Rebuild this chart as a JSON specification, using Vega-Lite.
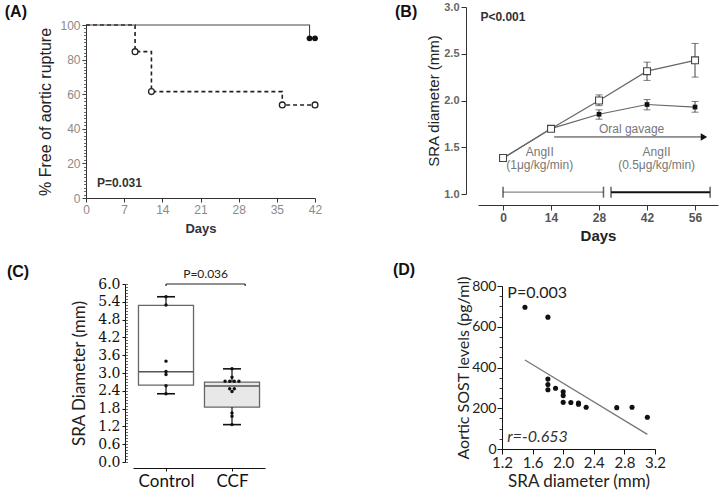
{
  "$schema": "https://vega.github.io/schema/vega-lite/v6.json",
  "background": "white",
  "width": 720, "height": 491,
  "autosize": {"type": "none"},
  "padding": 0,
  "config": {
    "view": {"stroke": null},
    "axis": {"grid": false, "labelFont": "Liberation Sans", "titleFont": "Liberation Sans", "labelFlush": false, "labelOverlap": false, "labelBound": false}
  },
  "resolve": {
    "scale": {"x": "independent", "y": "independent", "fill": "independent"},
    "axis": {"x": "independent", "y": "independent"}
  },
  "datasets": {
    "km": [
      {"g": "das", "day": 0, "pct": 100}, {"g": "das", "day": 9, "pct": 84.6}, {"g": "das", "day": 12, "pct": 61.5}, {"g": "das", "day": 36, "pct": 53.8}, {"g": "das", "day": 42, "pct": 53.8},
      {"g": "sol", "day": 0, "pct": 100}, {"g": "sol", "day": 41, "pct": 92.3}, {"g": "sol", "day": 42, "pct": 92.3}
    ],
    "kmpts": [
      {"g": "das", "day": 9, "pct": 84.6}, {"g": "das", "day": 12, "pct": 61.5}, {"g": "das", "day": 36, "pct": 53.8}, {"g": "das", "day": 42, "pct": 53.8},
      {"g": "sol", "day": 41, "pct": 92.3}, {"g": "sol", "day": 42, "pct": 92.3}
    ],
    "aann": [
      {"day": -14.9, "pct": 107.5, "t": "(A)", "k": "panel"},
      {"day": 2, "pct": 8.5, "t": "P=0.031", "k": "p"}
    ],
    "bser": [
      {"g": "open", "day": 0, "v": 1.385, "lo": 1.365, "hi": 1.405},
      {"g": "open", "day": 14, "v": 1.697, "lo": 1.68, "hi": 1.715},
      {"g": "open", "day": 28, "v": 2.0, "lo": 1.945, "hi": 2.06},
      {"g": "open", "day": 42, "v": 2.314, "lo": 2.215, "hi": 2.41},
      {"g": "open", "day": 56, "v": 2.43, "lo": 2.25, "hi": 2.61},
      {"g": "fill", "day": 0, "v": 1.38, "lo": 1.365, "hi": 1.40},
      {"g": "fill", "day": 14, "v": 1.70, "lo": 1.68, "hi": 1.72},
      {"g": "fill", "day": 28, "v": 1.853, "lo": 1.80, "hi": 1.90},
      {"g": "fill", "day": 42, "v": 1.957, "lo": 1.90, "hi": 2.01},
      {"g": "fill", "day": 56, "v": 1.93, "lo": 1.875, "hi": 1.99}
    ],
    "bbar": [
      {"k": "thin", "x1": 0, "x2": 29.3, "v": 1.02},
      {"k": "thick", "x1": 31.5, "x2": 60.4, "v": 1.02}
    ],
    "barrow": [{"x1": 14.9, "x2": 58.0, "v": 1.61, "tip": 58.6}],
    "bann": [
      {"day": 37.5, "v": 1.70, "t": "Oral gavage"},
      {"day": 10.7, "v": 1.445, "t": "AngII"},
      {"day": 10.7, "v": 1.305, "t": "(1μg/kg/min)"},
      {"day": 44.8, "v": 1.445, "t": "AngII"},
      {"day": 44.8, "v": 1.305, "t": "(0.5μg/kg/min)"}
    ],
    "bbold": [
      {"day": -31.5, "v": 2.946, "t": "(B)", "k": "panel"},
      {"day": -6.6, "v": 2.89, "t": "P<0.001", "k": "p"}
    ],
    "cbox": [
      {"grp": "Control", "lo": 2.30, "q1": 2.59, "med": 3.04, "q3": 5.28, "hi": 5.57},
      {"grp": "CCF", "lo": 1.26, "q1": 1.85, "med": 2.56, "q3": 2.69, "hi": 3.14}
    ],
    "cpts": [
      {"grp": "Control", "v": 5.57}, {"grp": "Control", "v": 5.29}, {"grp": "Control", "v": 3.40}, {"grp": "Control", "v": 3.05}, {"grp": "Control", "v": 2.95}, {"grp": "Control", "v": 2.57}, {"grp": "Control", "v": 2.30},
      {"grp": "CCF", "v": 3.14}, {"grp": "CCF", "v": 2.86}, {"grp": "CCF", "v": 2.72}, {"grp": "CCF", "v": 2.72}, {"grp": "CCF", "v": 2.72}, {"grp": "CCF", "v": 2.72}, {"grp": "CCF", "v": 2.47}, {"grp": "CCF", "v": 2.47}, {"grp": "CCF", "v": 2.38}, {"grp": "CCF", "v": 1.65}, {"grp": "CCF", "v": 1.54}, {"grp": "CCF", "v": 1.26}
    ],
    "cbracket": [{"b1": 1, "b2": 2.2, "mid": 1.6, "v": 6.0, "v2": 5.93, "t": "P=0.036"}],
    "cpanel": [{"px": -1.41, "v": 6.40, "t": "(C)"}],
    "dpts": [
      {"sra": 1.5, "sost": 696}, {"sra": 1.8, "sost": 647}, {"sra": 1.8, "sost": 343}, {"sra": 1.8, "sost": 316}, {"sra": 1.8, "sost": 291},
      {"sra": 1.9, "sost": 298}, {"sra": 2.0, "sost": 281}, {"sra": 2.0, "sost": 262}, {"sra": 2.0, "sost": 229}, {"sra": 2.1, "sost": 228},
      {"sra": 2.2, "sost": 226}, {"sra": 2.2, "sost": 220}, {"sra": 2.3, "sost": 205}, {"sra": 2.7, "sost": 203}, {"sra": 2.9, "sost": 205}, {"sra": 3.1, "sost": 156}
    ],
    "dfit": [{"sra": 1.5, "sost": 437}, {"sra": 3.1, "sost": 72}],
    "dann": [
      {"sra": 1.27, "sost": 766, "t": "P=0.003", "k": "p"},
      {"sra": 1.27, "sost": 58, "t": "r=-0.653", "k": "r"},
      {"sra": -0.225, "sost": 878, "t": "(D)", "k": "panel"}
    ]
  },
  "layer": [
    {
      "encoding": {
        "x": {"field": "day", "type": "quantitative", "scale": {"domain": [0, 42], "range": [86, 315], "nice": false, "zero": false},
          "axis": {"orient": "bottom", "offset": -293, "values": [0, 7, 14, 21, 28, 35, 42], "title": "Days", "titleFontSize": 13, "titleFontWeight": "bold", "titleColor": "#333", "titlePadding": 7, "labelColor": "#8a8a8a", "labelFontSize": 12, "labelPadding": 2, "tickSize": 4, "tickColor": "#333", "domainColor": "#333"}},
        "y": {"field": "pct", "type": "quantitative", "scale": {"domain": [0, 100], "range": [198, 25], "nice": false, "zero": false},
          "axis": {"orient": "left", "offset": -86, "values": [0, 20, 40, 60, 80, 100], "title": "% Free of aortic rupture", "titleFontSize": 16, "titleFontWeight": "normal", "titleColor": "#222", "titlePadding": 6, "labelColor": "#8a8a8a", "labelFontSize": 12, "labelPadding": 2, "tickSize": 4, "tickColor": "#333", "domainColor": "#333"}}
      },
      "layer": [
        {"data": {"name": "km"}, "transform": [{"filter": "datum.g == 'das'"}], "mark": {"type": "line", "interpolate": "step-after", "strokeDash": [4, 3], "color": "#222", "strokeWidth": 1.6}},
        {"data": {"name": "km"}, "transform": [{"filter": "datum.g == 'sol'"}], "mark": {"type": "line", "interpolate": "step-after", "color": "#444", "strokeWidth": 1.1}},
        {"data": {"name": "kmpts"}, "transform": [{"filter": "datum.g == 'das'"}], "mark": {"type": "point", "shape": "circle", "size": 34, "filled": false, "fill": "white", "fillOpacity": 1, "stroke": "#222", "strokeWidth": 1.3, "opacity": 1}},
        {"data": {"name": "kmpts"}, "transform": [{"filter": "datum.g == 'sol'"}], "mark": {"type": "point", "shape": "circle", "size": 34, "filled": true, "color": "#111", "opacity": 1}}
      ]
    },
    {
      "data": {"name": "aann"},
      "encoding": {
        "x": {"field": "day", "type": "quantitative", "scale": {"domain": [0, 42], "range": [86, 315], "nice": false, "zero": false}, "axis": null},
        "y": {"field": "pct", "type": "quantitative", "scale": {"domain": [0, 100], "range": [198, 25], "nice": false, "zero": false},
          "axis": {"orient": "left", "offset": -86, "values": [0, 2, 4, 6, 8, 10, 12, 14, 16, 18, 20, 22, 24, 26, 28, 30, 32, 34, 36, 38, 40, 42, 44, 46, 48, 50, 52, 54, 56, 58, 60, 62, 64, 66, 68, 70, 72, 74, 76, 78, 80, 82, 84, 86, 88, 90, 92, 94, 96, 98, 100], "labels": false, "domain": false, "title": null, "tickSize": 2.5, "tickColor": "#444", "tickWidth": 0.8}},
        "text": {"field": "t"}
      },
      "layer": [
        {"transform": [{"filter": "datum.k == 'p'"}], "mark": {"type": "text", "align": "left", "baseline": "middle", "font": "Liberation Sans", "fontSize": 12, "fontWeight": "bold", "color": "#333"}},
        {"transform": [{"filter": "datum.k == 'panel'"}], "mark": {"type": "text", "align": "left", "baseline": "middle", "font": "Liberation Sans", "fontSize": 16, "fontWeight": "bold", "color": "#111"}}
      ]
    },
    {
      "encoding": {
        "x": {"field": "day", "type": "quantitative", "scale": {"domain": [-7.3, 62.7], "range": [478, 718], "nice": false, "zero": false},
          "axis": {"orient": "bottom", "offset": -286, "values": [0, 14, 28, 42, 56], "title": "Days", "titleFontSize": 15, "titleFontWeight": "bold", "titleColor": "#222", "titlePadding": 5, "labelColor": "#555", "labelFontSize": 12, "labelFontWeight": "bold", "labelPadding": 2, "tickSize": 5, "tickColor": "#333", "domainColor": "#333"}},
        "y": {"field": "v", "type": "quantitative", "scale": {"domain": [1, 3], "range": [194, 7], "nice": false, "zero": false},
          "axis": {"orient": "left", "offset": -466, "values": [1, 1.5, 2, 2.5, 3], "format": ".1f", "title": "SRA diameter (mm)", "titleFontSize": 15, "titleFontWeight": "normal", "titleColor": "#222", "titlePadding": 2, "labelColor": "#666", "labelFontSize": 11, "labelFontWeight": "bold", "labelPadding": 2, "tickSize": 5, "tickColor": "#333", "domainColor": "#333"}}
      },
      "layer": [
        {"data": {"name": "bser"}, "mark": {"type": "line", "color": "#666", "strokeWidth": 1.2}, "encoding": {"detail": {"field": "g"}}},
        {"data": {"name": "bser"}, "mark": {"type": "rule", "color": "#444", "strokeWidth": 1},
          "encoding": {"y": {"field": "lo", "type": "quantitative"}, "y2": {"field": "hi"}}},
        {"data": {"name": "bser"}, "mark": {"type": "tick", "orient": "horizontal", "size": 7, "thickness": 1, "color": "#444"},
          "encoding": {"y": {"field": "lo", "type": "quantitative"}}},
        {"data": {"name": "bser"}, "mark": {"type": "tick", "orient": "horizontal", "size": 7, "thickness": 1, "color": "#444"},
          "encoding": {"y": {"field": "hi", "type": "quantitative"}}},
        {"data": {"name": "bser"}, "transform": [{"filter": "datum.g == 'fill'"}], "mark": {"type": "point", "shape": "square", "size": 22, "filled": true, "color": "#111", "opacity": 1}},
        {"data": {"name": "bser"}, "transform": [{"filter": "datum.g == 'open'"}], "mark": {"type": "point", "shape": "square", "size": 48, "filled": false, "fill": "white", "fillOpacity": 1, "stroke": "#444", "strokeWidth": 1.1, "opacity": 1}},
        {"data": {"name": "barrow"}, "mark": {"type": "rule", "color": "#333", "strokeWidth": 1},
          "encoding": {"x": {"field": "x1", "type": "quantitative"}, "x2": {"field": "x2"}}},
        {"data": {"name": "barrow"}, "mark": {"type": "point", "shape": "triangle-right", "size": 55, "filled": true, "color": "#111", "opacity": 1},
          "encoding": {"x": {"field": "tip", "type": "quantitative"}}},
        {"data": {"name": "bbar"}, "transform": [{"filter": "datum.k == 'thin'"}], "mark": {"type": "rule", "color": "#888", "strokeWidth": 1.2},
          "encoding": {"x": {"field": "x1", "type": "quantitative"}, "x2": {"field": "x2"}}},
        {"data": {"name": "bbar"}, "transform": [{"filter": "datum.k == 'thick'"}], "mark": {"type": "rule", "color": "#111", "strokeWidth": 2},
          "encoding": {"x": {"field": "x1", "type": "quantitative"}, "x2": {"field": "x2"}}},
        {"data": {"name": "bbar"}, "mark": {"type": "tick", "orient": "vertical", "size": 11, "thickness": 1.5, "color": "#222"},
          "encoding": {"x": {"field": "x1", "type": "quantitative"}}},
        {"data": {"name": "bbar"}, "mark": {"type": "tick", "orient": "vertical", "size": 11, "thickness": 1.5, "color": "#222"},
          "encoding": {"x": {"field": "x2", "type": "quantitative"}}},
        {"data": {"name": "bann"}, "mark": {"type": "text", "align": "center", "baseline": "middle", "font": "Liberation Sans", "fontSize": 12, "color": "#777"},
          "encoding": {"text": {"field": "t"}}},
        {"data": {"name": "bbold"}, "transform": [{"filter": "datum.k == 'p'"}], "mark": {"type": "text", "align": "left", "baseline": "middle", "font": "Liberation Sans", "fontSize": 12, "fontWeight": "bold", "color": "#333"},
          "encoding": {"text": {"field": "t"}}},
        {"data": {"name": "bbold"}, "transform": [{"filter": "datum.k == 'panel'"}], "mark": {"type": "text", "align": "left", "baseline": "middle", "font": "Liberation Sans", "fontSize": 16, "fontWeight": "bold", "color": "#111"},
          "encoding": {"text": {"field": "t"}}}
      ]
    },
    {
      "layer": [
        {"data": {"name": "cbox"},
          "transform": [{"calculate": "datum.grp == 'Control' ? 1 : 2", "as": "pos"}, {"calculate": "datum.pos - 0.417", "as": "x1"}, {"calculate": "datum.pos + 0.417", "as": "x2"}],
          "mark": {"type": "rect", "stroke": "#666", "strokeWidth": 1.3},
          "encoding": {
            "x": {"field": "x1", "type": "quantitative", "scale": {"domain": [0.5, 2.5], "range": [133, 265], "nice": false, "zero": false},
              "axis": {"orient": "bottom", "offset": -23, "values": [1, 2], "labelExpr": "datum.value == 1 ? 'Control' : 'CCF'", "title": null, "labelFont": "Lato", "labelFontSize": 17, "labelColor": "#111", "labelPadding": 2, "tickSize": 3, "tickColor": "#111", "domainColor": "#111"}},
            "x2": {"field": "x2"},
            "y": {"field": "q1", "type": "quantitative", "scale": {"domain": [0, 6], "range": [462, 284], "nice": false, "zero": false},
              "axis": {"orient": "left", "offset": -125, "values": [0, 0.6, 1.2, 1.8, 2.4, 3, 3.6, 4.2, 4.8, 5.4, 6], "format": ".1f", "title": "SRA Diameter (mm)", "titleFont": "Lato", "titleFontSize": 17, "titleFontWeight": "normal", "titleColor": "#222", "titlePadding": 9, "labelFont": "DejaVu Serif", "labelFontSize": 14, "labelColor": "#111", "labelPadding": 2, "tickSize": 3, "tickColor": "#111", "domainColor": "#111"}},
            "y2": {"field": "q3"},
            "fill": {"field": "grp", "type": "nominal", "scale": {"domain": ["Control", "CCF"], "range": ["#ffffff", "#e8e8e8"]}, "legend": null}
          }},
        {"data": {"name": "cbox"},
          "transform": [{"calculate": "datum.grp == 'Control' ? 1 : 2", "as": "pos"}, {"calculate": "datum.pos - 0.417", "as": "x1"}, {"calculate": "datum.pos + 0.417", "as": "x2"}],
          "mark": {"type": "rule", "color": "#555", "strokeWidth": 1.5},
          "encoding": {"x": {"field": "x1", "type": "quantitative"}, "x2": {"field": "x2"}, "y": {"field": "med", "type": "quantitative"}}},
        {"data": {"name": "cbox"},
          "transform": [{"calculate": "datum.grp == 'Control' ? 1 : 2", "as": "pos"}],
          "mark": {"type": "rule", "color": "#222", "strokeWidth": 1.3},
          "encoding": {"x": {"field": "pos", "type": "quantitative"}, "y": {"field": "q3", "type": "quantitative"}, "y2": {"field": "hi"}}},
        {"data": {"name": "cbox"},
          "transform": [{"calculate": "datum.grp == 'Control' ? 1 : 2", "as": "pos"}],
          "mark": {"type": "rule", "color": "#222", "strokeWidth": 1.3},
          "encoding": {"x": {"field": "pos", "type": "quantitative"}, "y": {"field": "lo", "type": "quantitative"}, "y2": {"field": "q1"}}},
        {"data": {"name": "cbox"},
          "transform": [{"calculate": "datum.grp == 'Control' ? 1 : 2", "as": "pos"}, {"calculate": "datum.pos - 0.136", "as": "c1"}, {"calculate": "datum.pos + 0.136", "as": "c2"}],
          "mark": {"type": "rule", "color": "#111", "strokeWidth": 1.6},
          "encoding": {"x": {"field": "c1", "type": "quantitative"}, "x2": {"field": "c2"}, "y": {"field": "hi", "type": "quantitative"}}},
        {"data": {"name": "cbox"},
          "transform": [{"calculate": "datum.grp == 'Control' ? 1 : 2", "as": "pos"}, {"calculate": "datum.pos - 0.136", "as": "c1"}, {"calculate": "datum.pos + 0.136", "as": "c2"}],
          "mark": {"type": "rule", "color": "#111", "strokeWidth": 1.6},
          "encoding": {"x": {"field": "c1", "type": "quantitative"}, "x2": {"field": "c2"}, "y": {"field": "lo", "type": "quantitative"}}},
        {"data": {"name": "cpts"},
          "transform": [
            {"window": [{"op": "row_number", "as": "i"}, {"op": "count", "as": "n"}], "groupby": ["grp", "v"], "frame": [null, null]},
            {"calculate": "(datum.grp == 'Control' ? 1 : 2) + (datum.i - (datum.n + 1) / 2) * 0.07", "as": "px"}
          ],
          "mark": {"type": "circle", "size": 12, "color": "#111", "opacity": 1},
          "encoding": {"x": {"field": "px", "type": "quantitative"}, "y": {"field": "v", "type": "quantitative"}}},
        {"data": {"name": "cbracket"}, "mark": {"type": "rule", "color": "#222", "strokeWidth": 1.2},
          "encoding": {"x": {"field": "b1", "type": "quantitative"}, "x2": {"field": "b2"}, "y": {"field": "v", "type": "quantitative"}}},
        {"data": {"name": "cbracket"}, "mark": {"type": "rule", "color": "#222", "strokeWidth": 1.2},
          "encoding": {"x": {"field": "b1", "type": "quantitative"}, "y": {"field": "v", "type": "quantitative"}, "y2": {"field": "v2"}}},
        {"data": {"name": "cbracket"}, "mark": {"type": "rule", "color": "#222", "strokeWidth": 1.2},
          "encoding": {"x": {"field": "b2", "type": "quantitative"}, "y": {"field": "v", "type": "quantitative"}, "y2": {"field": "v2"}}},
        {"data": {"name": "cbracket"}, "mark": {"type": "text", "align": "center", "baseline": "bottom", "dy": -3, "font": "Lato", "fontSize": 12, "color": "#222"},
          "encoding": {"x": {"field": "mid", "type": "quantitative"}, "y": {"field": "v", "type": "quantitative"}, "text": {"field": "t"}}}
      ]
    },
    {
      "data": {"name": "cpanel"},
      "mark": {"type": "text", "align": "left", "baseline": "middle", "font": "Liberation Sans", "fontSize": 16, "fontWeight": "bold", "color": "#111"},
      "encoding": {
        "x": {"field": "px", "type": "quantitative", "scale": {"domain": [0.5, 2.5], "range": [133, 265], "nice": false, "zero": false}, "axis": null},
        "y": {"field": "v", "type": "quantitative", "scale": {"domain": [0, 6], "range": [462, 284], "nice": false, "zero": false},
          "axis": {"orient": "right", "offset": -595, "values": [0, 0.1, 0.2, 0.3, 0.4, 0.5, 0.6, 0.7, 0.8, 0.9, 1, 1.1, 1.2, 1.3, 1.4, 1.5, 1.6, 1.7, 1.8, 1.9, 2, 2.1, 2.2, 2.3, 2.4, 2.5, 2.6, 2.7, 2.8, 2.9, 3, 3.1, 3.2, 3.3, 3.4, 3.5, 3.6, 3.7, 3.8, 3.9, 4, 4.1, 4.2, 4.3, 4.4, 4.5, 4.6, 4.7, 4.8, 4.9, 5, 5.1, 5.2, 5.3, 5.4, 5.5, 5.6, 5.7, 5.8, 5.9, 6], "labels": false, "domain": false, "title": null, "tickSize": 2.5, "tickColor": "#444", "tickWidth": 0.8}},
        "text": {"field": "t"}
      }
    },
    {
      "encoding": {
        "x": {"field": "sra", "type": "quantitative", "scale": {"domain": [1.2, 3.2], "range": [502, 655], "nice": false, "zero": false},
          "axis": {"orient": "bottom", "offset": -42, "values": [1.2, 1.6, 2.0, 2.4, 2.8, 3.2], "format": ".1f", "title": "SRA diameter (mm)", "titleFont": "Lato", "titleFontSize": 17, "titleFontWeight": "normal", "titleColor": "#222", "titlePadding": 3, "labelFont": "Lato", "labelFontSize": 15, "labelColor": "#222", "labelPadding": 1, "tickSize": 5, "tickColor": "#111", "domainColor": "#111"}},
        "y": {"field": "sost", "type": "quantitative", "scale": {"domain": [0, 800], "range": [449, 286], "nice": false, "zero": false},
          "axis": {"orient": "left", "offset": -502, "values": [0, 200, 400, 600, 800], "title": "Aortic SOST levels (pg/ml)", "titleFont": "Lato", "titleFontSize": 16, "titleFontWeight": "normal", "titleColor": "#222", "titlePadding": 0, "labelFont": "Lato", "labelFontSize": 14, "labelColor": "#222", "labelPadding": 1, "tickSize": 5, "tickColor": "#111", "domainColor": "#111"}}
      },
      "layer": [
        {"data": {"name": "dfit"}, "mark": {"type": "line", "color": "#777", "strokeWidth": 1.3}},
        {"data": {"name": "dpts"}, "mark": {"type": "circle", "size": 26, "color": "#111", "opacity": 1}}
      ]
    },
    {
      "data": {"name": "dann"},
      "encoding": {
        "x": {"field": "sra", "type": "quantitative", "scale": {"domain": [1.2, 3.2], "range": [502, 655], "nice": false, "zero": false}, "axis": null},
        "y": {"field": "sost", "type": "quantitative", "scale": {"domain": [0, 800], "range": [449, 286], "nice": false, "zero": false},
          "axis": {"orient": "left", "offset": -502, "values": [0, 50, 100, 150, 200, 250, 300, 350, 400, 450, 500, 550, 600, 650, 700, 750, 800], "labels": false, "domain": false, "title": null, "tickSize": 3, "tickColor": "#222", "tickWidth": 0.9}},
        "text": {"field": "t"}
      },
      "layer": [
        {"transform": [{"filter": "datum.k == 'p'"}], "mark": {"type": "text", "align": "left", "baseline": "middle", "font": "Lato", "fontSize": 16, "color": "#222"}},
        {"transform": [{"filter": "datum.k == 'r'"}], "mark": {"type": "text", "align": "left", "baseline": "middle", "font": "Lato", "fontSize": 16, "fontStyle": "italic", "color": "#333"}},
        {"transform": [{"filter": "datum.k == 'panel'"}], "mark": {"type": "text", "align": "left", "baseline": "middle", "font": "Liberation Sans", "fontSize": 16, "fontWeight": "bold", "color": "#111"}}
      ]
    }
  ]
}
